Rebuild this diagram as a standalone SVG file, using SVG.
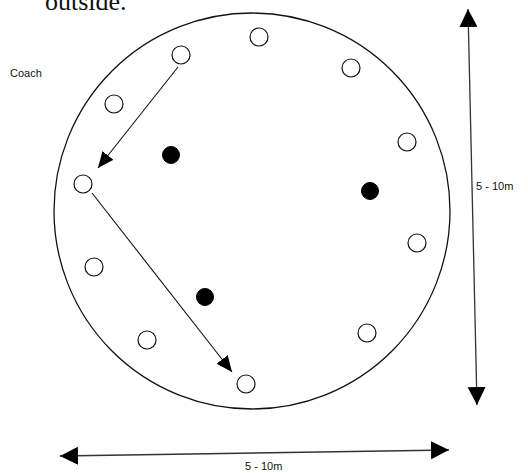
<svg xmlns="http://www.w3.org/2000/svg" width="528" height="473" viewBox="0 0 528 473">
<style>
.ring{fill:none;stroke:#111;stroke-width:1.3}
.p{fill:#fff;stroke:#111;stroke-width:1.2}
.d{fill:#000;stroke:#000;stroke-width:1}
.ln{fill:none;stroke:#111;stroke-width:1.1}
.dim{fill:none;stroke:#333;stroke-width:1.3}
.t{font-family:"Liberation Sans",Arial,sans-serif;font-size:11px;fill:#111}
.s{font-family:"Liberation Serif","Times New Roman",serif;font-size:26px;fill:#111}
</style>
<defs>
<marker id="sm" markerUnits="userSpaceOnUse" markerWidth="17" markerHeight="15" refX="16" refY="7" orient="auto"><path d="M0,0 L16,7 L0,14 z" fill="#000"/></marker>
<marker id="bg" markerUnits="userSpaceOnUse" markerWidth="19" markerHeight="19" refX="18" refY="9" orient="auto-start-reverse"><path d="M0,0 L18,9 L0,18 z" fill="#000"/></marker>
</defs>
<text class="s" x="45" y="10">outside.</text>
<text class="t" x="10" y="77">Coach</text>
<g id="field"><circle class="ring" cx="252" cy="211" r="198"/></g>
<g id="players">
<circle class="p" cx="181" cy="55" r="9"/>
<circle class="p" cx="114" cy="104" r="9"/>
<circle class="p" cx="259" cy="37" r="9"/>
<circle class="p" cx="351" cy="68" r="9"/>
<circle class="p" cx="407" cy="142" r="9"/>
<circle class="p" cx="83" cy="184" r="9"/>
<circle class="p" cx="94" cy="267" r="9"/>
<circle class="p" cx="417" cy="243" r="9"/>
<circle class="p" cx="147" cy="340" r="9"/>
<circle class="p" cx="367" cy="333" r="9"/>
<circle class="p" cx="246" cy="384" r="9"/>
</g>
<g id="defenders">
<circle class="d" cx="171" cy="155" r="8.5"/>
<circle class="d" cx="370" cy="191" r="8.5"/>
<circle class="d" cx="205" cy="297" r="8.5"/>
</g>
<g id="connectors">
<line class="ln" x1="178" y1="67" x2="98" y2="168" marker-end="url(#sm)"/>
<line class="ln" x1="92" y1="193" x2="232" y2="372" marker-end="url(#sm)"/>
<line class="dim" x1="468" y1="9" x2="477" y2="405" marker-start="url(#bg)" marker-end="url(#bg)"/>
<line class="dim" x1="60" y1="456" x2="449" y2="450" marker-start="url(#bg)" marker-end="url(#bg)"/>
</g>
<text class="t" x="476" y="190">5 - 10m</text>
<text class="t" x="245" y="470">5 - 10m</text>
</svg>
